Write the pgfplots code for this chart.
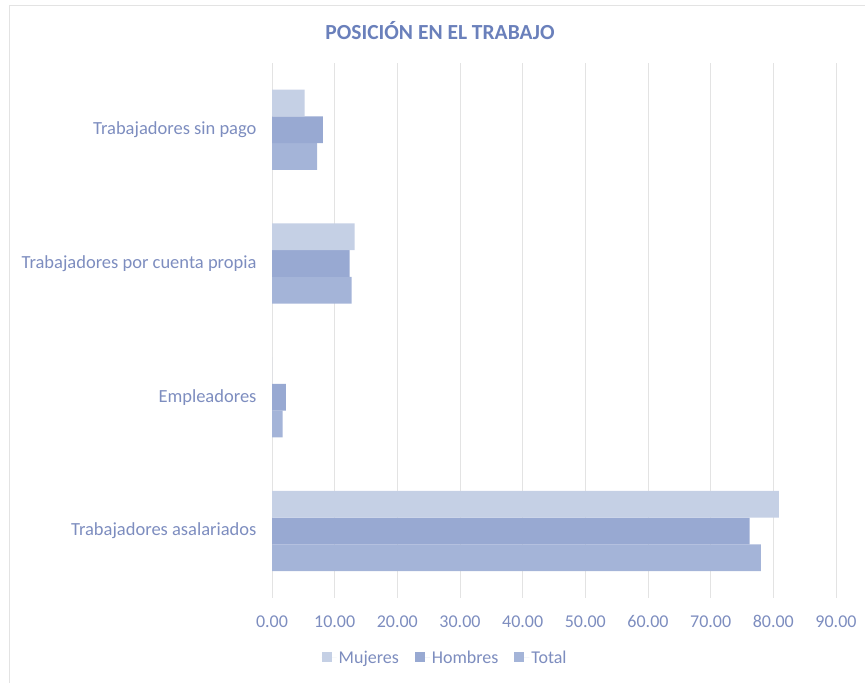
\documentclass[border=0pt]{standalone}
\usepackage{pgfplots}
\pgfplotsset{compat=1.18}
\usepackage{fontspec}
\setmainfont{Carlito}
\definecolor{cMuj}{HTML}{C5D0E5}
\definecolor{cHom}{HTML}{98A9D2}
\definecolor{cTot}{HTML}{A4B4D8}
\definecolor{txt}{HTML}{7D8DBF}
\definecolor{ttl}{HTML}{6A80BB}
\definecolor{grd}{HTML}{E3E3E3}
\begin{document}
\begin{tikzpicture}[x=1bp,y=1bp]
\useasboundingbox (0,0) rectangle (865,683);
\draw[grd, line width=1bp] (9,0) -- (9,677) -- (865,677);
\node[font=\fontsize{21.5bp}{25bp}\selectfont\bfseries, text=ttl] at (440,652) {POSICIÓN EN EL TRABAJO};
\begin{axis}[
  at={(272bp,85bp)}, anchor=south west,
  scale only axis, width=564bp, height=535bp,
  xmin=0, xmax=90, ymin=-0.5, ymax=3.5,
  xtick={0,10,...,90}, ytick={0,1,2,3},
  yticklabels={Trabajadores asalariados, Empleadores, Trabajadores por cuenta propia, Trabajadores sin pago},
  xmajorgrids, grid style={grd, line width=1bp},
  axis line style={draw=none},
  major tick length=0pt,
  tick label style={font=\fontsize{18.5bp}{22bp}\selectfont, text=txt},
  xticklabel style={yshift=-14bp, font=\fontsize{18bp}{22bp}\selectfont},
  yticklabel style={xshift=-12bp},
  /pgf/number format/.cd, fixed, fixed zerofill, precision=2, assume math mode=true,
  /pgfplots/.cd,
  xbar, bar width=0.2,
  legend style={at={(0.307,-0.112)}, anchor=center, draw=none, legend columns=-1,
    font=\fontsize{18bp}{22bp}\selectfont, text=txt,
    /tikz/every even column/.append style={column sep=14bp}},
  legend image code/.code={\fill[#1] (0bp,-4bp) rectangle (10bp,6bp); \path (0bp,0bp) -- (15bp,0bp);},
  reverse legend,
]
\addplot[fill=cTot, draw=none, bar shift=-0.2] coordinates {(78.0,0) (1.7,1) (12.7,2) (7.2,3)};
\addplot[fill=cHom, draw=none, bar shift=0] coordinates {(76.2,0) (2.2,1) (12.4,2) (8.1,3)};
\addplot[fill=cMuj, draw=none, bar shift=0.2] coordinates {(80.9,0) (0,1) (13.2,2) (5.2,3)};
\legend{Total, Hombres, Mujeres}
\end{axis}
\end{tikzpicture}
\end{document}
